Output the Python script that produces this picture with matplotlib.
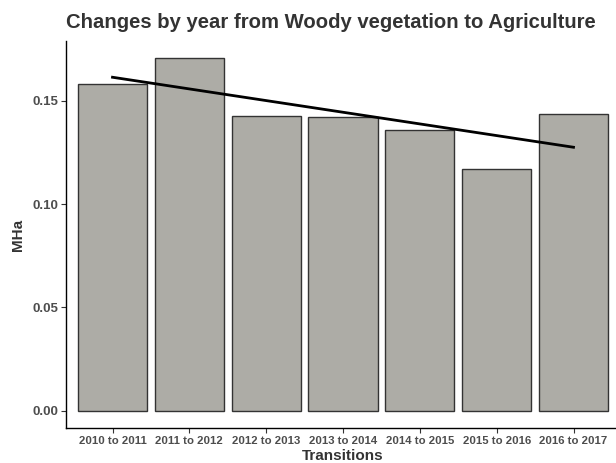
import matplotlib
matplotlib.use("Agg")
import matplotlib.pyplot as plt
import numpy as np

transitions = ["2010 to 2011", "2011 to 2012", "2012 to 2013", "2013 to 2014",
               "2014 to 2015", "2015 to 2016", "2016 to 2017"]
mha = [0.1584, 0.1707, 0.1428, 0.1423, 0.1358, 0.1173, 0.1436]
# linear trend line end points (first and last transition)
trend = [0.1615, 0.1276]

plt.rcParams['font.family'] = ['Liberation Sans', 'DejaVu Sans']

W, H = 616, 463
fig = plt.figure(figsize=(W / 100, H / 100), dpi=100)
# plot panel in pixels: left 66.4, right 619.6, top 40.7, bottom 428.3
ax = fig.add_axes([66.4 / W, 1 - 428.3 / H, (619.6 - 66.4) / W, (428.3 - 40.7) / H])

x = np.arange(1, len(transitions) + 1)
ax.bar(x, mha, width=0.9, color='#adaca6', edgecolor='#333333', linewidth=1.0, zorder=2)
ax.plot([x[0], x[-1]], trend, color='black', linewidth=2.0, zorder=3)

ax.set_xlim(0.4, len(transitions) + 0.6)
ax.set_ylim(-0.0085, 0.1792)
ax.set_xticks(x)
ax.set_xticklabels(transitions, fontsize=8.2, fontweight='bold', color='#4d4d4d')
ax.set_yticks([0.0, 0.05, 0.10, 0.15])
ax.set_yticklabels(["0.00", "0.05", "0.10", "0.15"], fontsize=9.5, fontweight='bold', color='#4d4d4d')
ax.tick_params(axis='both', length=3.5, width=0.8, color='#333333', pad=2)

for side in ['top', 'right']:
    ax.spines[side].set_visible(False)
for side in ['left', 'bottom']:
    ax.spines[side].set_linewidth(1.0)
    ax.spines[side].set_color('black')

ax.set_xlabel("Transitions", fontsize=11, fontweight='bold', color='#333333', labelpad=2)
ax.set_ylabel("MHa", fontsize=11, fontweight='bold', color='#333333', labelpad=6)
fig.text(331 / W, 1 - 22 / H, "Changes by year from Woody vegetation to Agriculture",
         ha='center', va='center', fontsize=14.6, fontweight='bold', color='#333333')

fig.savefig("out.png", dpi=100)
